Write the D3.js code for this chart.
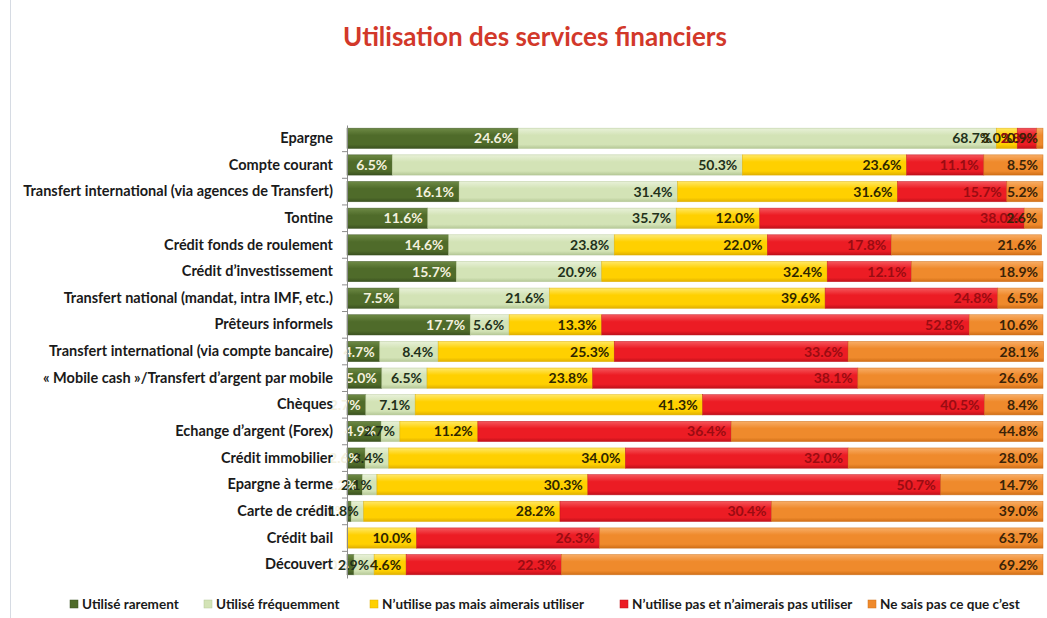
<!DOCTYPE html>
<html><head><meta charset="utf-8">
<script src="https://cdn.jsdelivr.net/npm/d3@7"></script>
<style>
html,body{margin:0;padding:0;background:#fff;}
svg{display:block;}
</style></head>
<body>
<svg id="chart" width="1047" height="618"></svg>
<script>
const categories = [
  "Epargne",
  "Compte courant",
  "Transfert international (via agences de Transfert)",
  "Tontine",
  "Crédit fonds de roulement",
  "Crédit d\u2019investissement",
  "Transfert national (mandat, intra IMF, etc.)",
  "Prêteurs informels",
  "Transfert international (via compte bancaire)",
  "« Mobile cash »/Transfert d\u2019argent par mobile",
  "Chèques",
  "Echange d\u2019argent (Forex)",
  "Crédit immobilier",
  "Epargne à terme",
  "Carte de crédit",
  "Crédit bail",
  "Découvert"
];
const seriesNames = [
  "Utilisé rarement",
  "Utilisé fréquemment",
  "N\u2019utilise pas mais aimerais utiliser",
  "N\u2019utilise pas et n\u2019aimerais pas utiliser",
  "Ne sais pas ce que c\u2019est"
];
const utiliseRarement     = [24.6, 6.5, 16.1, 11.6, 14.6, 15.7, 7.5, 17.7, 4.7, 5.0, 2.7, 4.9, 2.6, 2.2, 0.6, 0, 1.0];
const utiliseFrequemment  = [68.7, 50.3, 31.4, 35.7, 23.8, 20.9, 21.6, 5.6, 8.4, 6.5, 7.1, 2.7, 3.4, 2.1, 1.8, 0, 2.9];
const aimeraisUtiliser    = [3.0, 23.6, 31.6, 12.0, 22.0, 32.4, 39.6, 13.3, 25.3, 23.8, 41.3, 11.2, 34.0, 30.3, 28.2, 10.0, 4.6];
const aimeraisPasUtiliser = [2.8, 11.1, 15.7, 38.0, 17.8, 12.1, 24.8, 52.8, 33.6, 38.1, 40.5, 36.4, 32.0, 50.7, 30.4, 26.3, 22.3];
const neSaisPas           = [0.9, 8.5, 5.2, 2.6, 21.6, 18.9, 6.5, 10.6, 28.1, 26.6, 8.4, 44.8, 28.0, 14.7, 39.0, 63.7, 69.2];
const xDomain = [0, 100];

const seriesValues = [utiliseRarement, utiliseFrequemment, aimeraisUtiliser, aimeraisPasUtiliser, neSaisPas];
const colors = ["#4f6b2a", "#d3e3b6", "#ffd000", "#ec1c24", "#ef8a2c"];
const lightC = ["#6e8a45", "#e8f1d8", "#ffe866", "#f5575c", "#f8ad66"];
const darkC  = ["#3b5220", "#b5c897", "#e0b000", "#c0101a", "#d06f18"];
const labelColors = ["#f4f1de", "#22301a", "#2e2600", "#9a0c12", "#3a2308"];

const svg = d3.select("#chart");
const W = 1047, H = 618;
const m = {left: 347, right: 4, top: 125, bottom: 40};
const FONT = "Lato, 'Open Sans', sans-serif";

// frame line at left
svg.append("line").attr("x1", 10.5).attr("x2", 10.5).attr("y1", 0).attr("y2", H)
  .attr("stroke", "#d6dbe3").attr("stroke-width", 1);

// title
svg.append("text").attr("x", 535).attr("y", 46).attr("text-anchor", "middle")
  .attr("font-family", FONT).attr("font-weight", "bold")
  .attr("font-size", 26).attr("fill", "#d2382a")
  .text("Utilisation des services financiers");

const x = d3.scaleLinear().domain(xDomain).range([m.left, W - m.right]);
const y = d3.scaleBand().domain(categories).range([m.top, H - m.bottom]).paddingInner(0.24).paddingOuter(0.12);

// gradients
const defs = svg.append("defs");
colors.forEach((c, i) => {
  const g = defs.append("linearGradient").attr("id", "g" + i).attr("x1", 0).attr("x2", 0).attr("y1", 0).attr("y2", 1);
  g.append("stop").attr("offset", "0%").attr("stop-color", lightC[i]);
  g.append("stop").attr("offset", "35%").attr("stop-color", c);
  g.append("stop").attr("offset", "80%").attr("stop-color", c);
  g.append("stop").attr("offset", "100%").attr("stop-color", darkC[i]);
});

// stack
const rows = categories.map((cat, ci) => {
  const o = {cat};
  seriesNames.forEach((s, si) => o[s] = seriesValues[si][ci]);
  return o;
});
const stacked = d3.stack().keys(seriesNames)(rows);

stacked.forEach((layer, si) => {
  svg.append("g").selectAll("rect").data(layer).join("rect")
    .attr("x", d => x(d[0]))
    .attr("y", d => y(d.data.cat))
    .attr("width", d => Math.max(0, x(d[1]) - x(d[0])))
    .attr("height", y.bandwidth())
    .attr("fill", "url(#g" + si + ")")
    .attr("stroke", darkC[si]).attr("stroke-width", 0.6)
    .attr("stroke-opacity", d => (d[1] - d[0]) > 0 ? 0.8 : 0);
});

// labels
stacked.forEach((layer, si) => {
  svg.append("g").selectAll("text").data(layer.filter(d => d[1] - d[0] > 0)).join("text")
    .attr("x", d => x(d[1]) - 5)
    .attr("y", d => y(d.data.cat) + y.bandwidth() / 2)
    .attr("dy", "0.36em")
    .attr("text-anchor", "end")
    .attr("font-family", FONT).attr("font-weight", "bold")
    .attr("font-size", 14)
    .attr("fill", labelColors[si])
    .text(d => d3.format(".1f")(d[1] - d[0]) + "%");
});

// y axis
const yAxis = d3.axisLeft(y).tickSize(0).tickPadding(14);
const ga = svg.append("g").attr("transform", `translate(${m.left},0)`).call(yAxis);
ga.select(".domain").attr("stroke", "#8c8c8c");
ga.selectAll("text").attr("font-family", FONT).attr("font-weight", "bold")
  .attr("font-size", 14.5).attr("fill", "#1a1a1a");
// boundary ticks
svg.append("g").selectAll("line").data(categories.slice(1)).join("line")
  .attr("x1", m.left - 5).attr("x2", m.left)
  .attr("y1", d => y(d) - y.step() * y.paddingInner() / 2)
  .attr("y2", d => y(d) - y.step() * y.paddingInner() / 2)
  .attr("stroke", "#8c8c8c");

// legend
const legendX = [70, 204, 370, 620, 868];
const lg = svg.append("g");
seriesNames.forEach((s, i) => {
  lg.append("rect").attr("x", legendX[i]).attr("y", 600).attr("width", 8).attr("height", 8)
    .attr("fill", colors[i]).attr("stroke", darkC[i]).attr("stroke-width", 0.5);
  lg.append("text").attr("x", legendX[i] + 12).attr("y", 604).attr("dy", "0.36em")
    .attr("font-family", FONT).attr("font-weight", "bold").attr("font-size", 13.5)
    .attr("fill", "#1a1a1a").text(s);
});
</script>
</body></html>
